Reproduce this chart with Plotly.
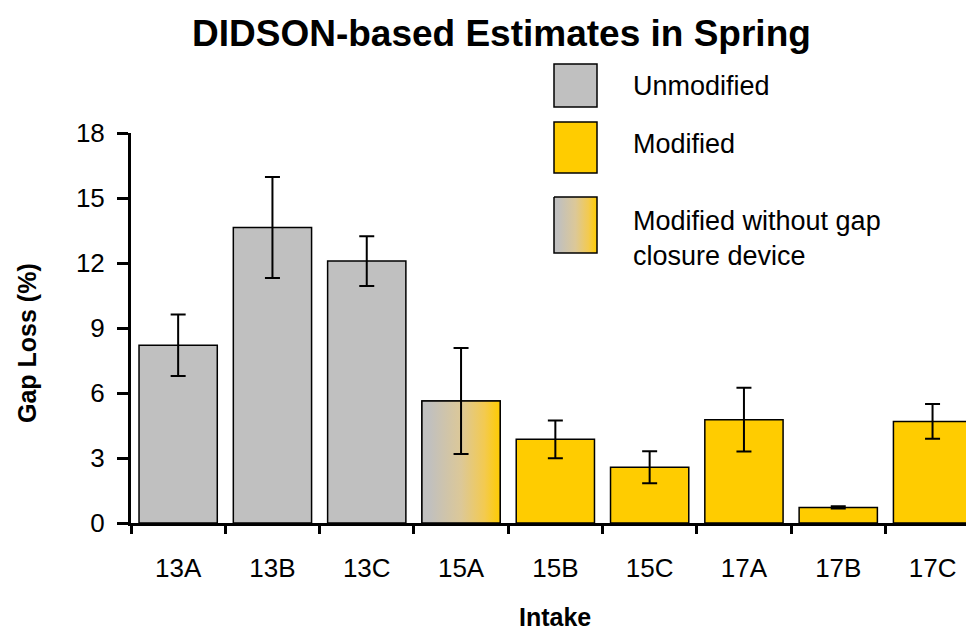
import plotly.graph_objects as go

# ---------------- data ----------------
categories = ["13A", "13B", "13C", "15A", "15B", "15C", "17A", "17B", "17C"]
gap_loss = [8.2, 13.64, 12.09, 5.63, 3.86, 2.57, 4.77, 0.72, 4.69]
gap_err = [1.42, 2.33, 1.15, 2.45, 0.87, 0.74, 1.47, 0.05, 0.8]
group = ["Unmodified", "Unmodified", "Unmodified", "Modified without gap closure device",
         "Modified", "Modified", "Modified", "Modified", "Modified"]
y_ticks = [0, 3, 6, 9, 12, 15, 18]
legend_labels = ["Unmodified", "Modified", "Modified without gap<br>closure device"]

# ---------------- style ----------------
GREY = "#C0C0C0"
YELLOW = "#FFCC00"
GRAD = [[0, "#C0C0C0"], [0.1, "#C1C0BE"], [0.5, "#DCC898"], [0.8, "#F3CA50"], [1, "#FFCC00"]]
FONT = "Arial, Liberation Sans, sans-serif"
OFF = 8                      # default page body margin
W, H = 974 - OFF, 632 - OFF
# plot area in window pixels
L, R, T, B = 131, 974, 133, 523
PW, PH = R - L, B - T
BAR_W = 0.83

def px(x):
    return (x - L) / PW

def py(y):
    return (B - y) / PH

color_of = {"Unmodified": GREY, "Modified": YELLOW,
            "Modified without gap closure device": "rgba(0,0,0,0)"}
idx = list(range(len(categories)))

fig = go.Figure()

fig.add_trace(go.Bar(
    x=idx, y=gap_loss, width=BAR_W,
    marker=dict(color=[color_of[g] for g in group], line=dict(color="black", width=1.5)),
    hoverinfo="skip",
))

for i, g in enumerate(group):
    if g == "Modified without gap closure device":
        x0, x1 = i - BAR_W / 2, i + BAR_W / 2
        fig.add_trace(go.Scatter(
            x=[x0, x1, x1, x0, x0], y=[0, 0, gap_loss[i], gap_loss[i], 0],
            xaxis="x2", yaxis="y", mode="lines", fill="toself",
            line=dict(color="black", width=1.5),
            fillgradient=dict(type="horizontal", colorscale=GRAD),
            hoverinfo="skip",
        ))

fig.add_trace(go.Scatter(
    x=idx, y=gap_loss, xaxis="x2", yaxis="y", mode="markers",
    marker=dict(size=0.1, color="rgba(0,0,0,0)"),
    error_y=dict(type="data", array=gap_err, visible=True, color="black",
                 thickness=2, width=7.5),
    hoverinfo="skip",
))

# legend gradient swatch (window pixel coordinates on hidden overlay axes)
lx0, lx1, ly0, ly1 = 554, 597, 197, 253
fig.add_trace(go.Scatter(
    x=[lx0, lx1, lx1, lx0, lx0], y=[ly0, ly0, ly1, ly1, ly0],
    xaxis="x3", yaxis="y3", mode="lines", fill="toself",
    line=dict(color="black", width=1.5),
    fillgradient=dict(type="horizontal", colorscale=GRAD),
    hoverinfo="skip",
))

shapes = [
    dict(type="rect", xref="paper", yref="paper", x0=px(554), x1=px(597), y0=py(107), y1=py(64),
         fillcolor=GREY, line=dict(color="black", width=1.5)),
    dict(type="rect", xref="paper", yref="paper", x0=px(554), x1=px(597), y0=py(173), y1=py(122),
         fillcolor=YELLOW, line=dict(color="black", width=1.5)),
]

annotations = [
    dict(text="<b>DIDSON-based Estimates in Spring</b>", xref="paper", yref="paper",
         x=px(501), y=py(33), showarrow=False, font=dict(size=37, color="black", family=FONT),
         xanchor="center", yanchor="middle"),
    dict(text="<b>Gap Loss (%)</b>", xref="paper", yref="paper", x=px(27), y=py(343),
         showarrow=False, textangle=-90, font=dict(size=25, color="black", family=FONT),
         xanchor="center", yanchor="middle"),
    dict(text="<b>Intake</b>", xref="paper", yref="paper", x=px(555), y=py(617),
         showarrow=False, font=dict(size=25, color="black", family=FONT),
         xanchor="center", yanchor="middle"),
]
legend_y = [86, 144, 238]
for lab, yy in zip(legend_labels, legend_y):
    annotations.append(dict(text=lab, xref="paper", yref="paper", x=px(631), y=py(yy),
                            showarrow=False, align="left",
                            font=dict(size=27, color="black", family=FONT),
                            xanchor="left", yanchor="middle"))

xr = [-0.5, -0.5 + PW / 94.3]

fig.update_layout(
    width=W, height=H,
    margin=dict(l=L - OFF, r=974 - R, t=T - OFF, b=632 - B, pad=0),
    paper_bgcolor="white", plot_bgcolor="white",
    showlegend=False,
    font=dict(family=FONT, color="black"),
    xaxis=dict(range=xr, tickmode="array", tickvals=idx, ticktext=categories,
               ticks="", showgrid=False, zeroline=False, showline=True,
               linecolor="black", linewidth=3, tickfont=dict(size=26),
               ticklabelstandoff=20),
    xaxis2=dict(range=xr, overlaying="x", anchor="y", side="bottom",
                tickmode="array", tickvals=[i - 0.5 for i in range(len(categories) + 1)],
                ticks="outside", ticklen=10, tickwidth=3, tickcolor="black",
                showticklabels=False, showgrid=False, zeroline=False, showline=False),
    yaxis=dict(range=[0, 18], tickmode="array", tickvals=y_ticks,
               ticks="outside", ticklen=11, tickwidth=3, tickcolor="black",
               showgrid=False, zeroline=False, showline=True, linecolor="black",
               linewidth=3, tickfont=dict(size=26), ticklabelstandoff=7),
    xaxis3=dict(range=[L, R], overlaying="x", anchor="y3", visible=False),
    yaxis3=dict(range=[B, T], overlaying="y", anchor="x3", visible=False),
    shapes=shapes,
    annotations=annotations,
)

fig.write_html("out.html")
